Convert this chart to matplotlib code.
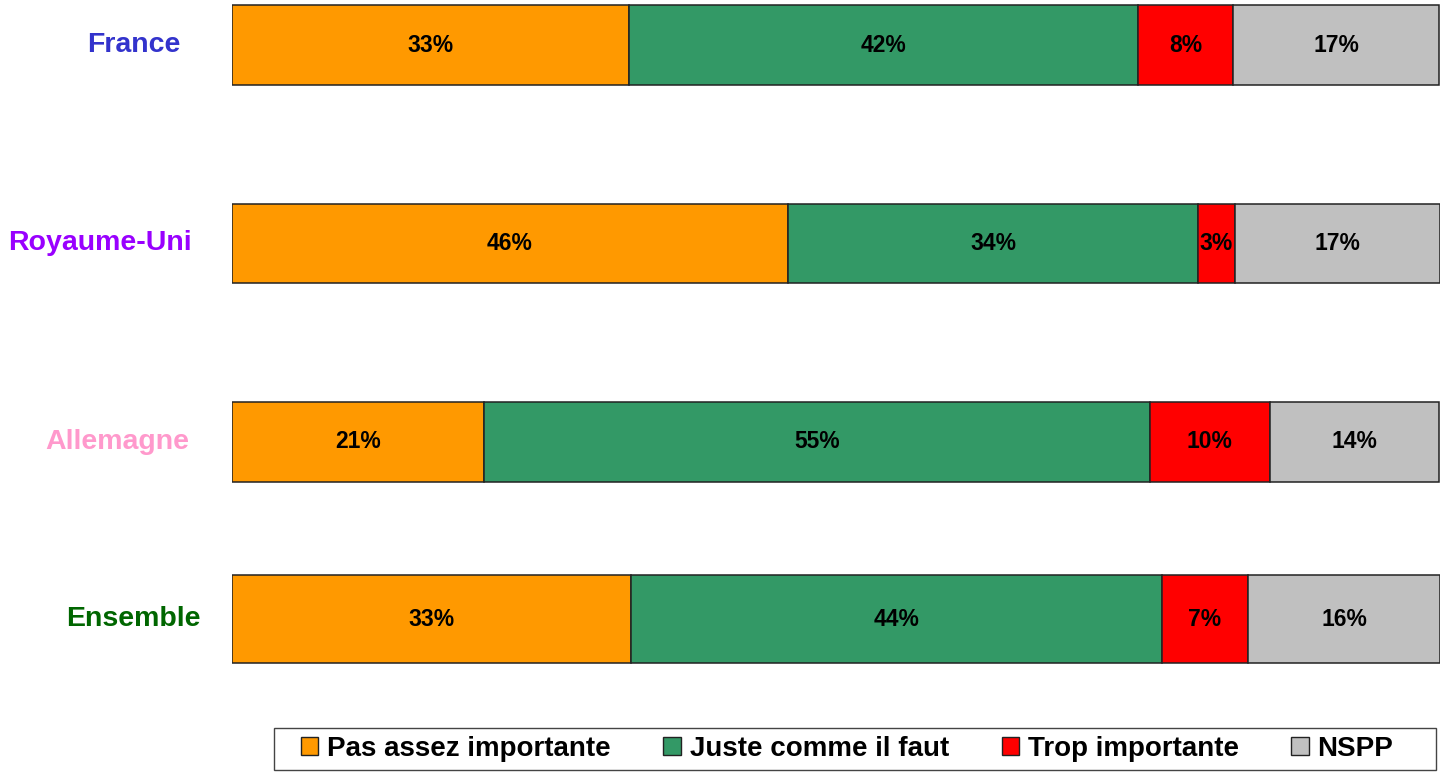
import matplotlib.pyplot as plt
from matplotlib.patches import Rectangle

plt.rcParams['font.family'] = ['Liberation Sans', 'DejaVu Sans']

# data (shares in %)
pays = ["France", "Royaume-Uni", "Allemagne", "Ensemble"]
pays_couleurs = ["#3333CC", "#9900FF", "#FF99CC", "#006600"]
categories = ["Pas assez importante", "Juste comme il faut", "Trop importante", "NSPP"]
cat_couleurs = ["#FF9900", "#339966", "#FF0000", "#C0C0C0"]
pas_assez = [32.9, 46.0, 20.9, 33.0]
juste = [42.1, 34.0, 55.1, 44.0]
trop = [7.9, 3.0, 9.9, 7.1]
nspp = [17.0, 17.0, 14.0, 15.9]
series = [pas_assez, juste, trop, nspp]

# layout (pixel-ish units, y axis inverted)
y_pos = [45, 243.5, 442, 619]
hauteurs = [80, 79, 80, 88]
label_x = [-4.3, -3.3, -3.5, -2.6]

W, H = 1443, 772
fig = plt.figure(figsize=(W / 100, H / 100), dpi=100)
ax = fig.add_axes([232 / W, 1 - 700 / H, 1208 / W, 700 / H])
ax.set_xlim(0, 100)
ax.set_ylim(700, 0)
ax.axis('off')

left = [0.0] * len(pays)
for vals, col, cat in zip(series, cat_couleurs, categories):
    ax.barh(y_pos, vals, left=left, height=hauteurs, color=col,
            edgecolor='#222222', linewidth=1.1, label=cat)
    for i, v in enumerate(vals):
        ax.text(left[i] + v / 2, y_pos[i], f"{v:.0f}%", ha='center', va='center',
                fontsize=16.5, fontweight='bold', color='black')
    left = [l + v for l, v in zip(left, vals)]

for i, p in enumerate(pays):
    ax.text(label_x[i], y_pos[i], p, ha='right', va='center', fontsize=20.5,
            fontweight='bold', color=pays_couleurs[i], clip_on=False)

# legend frame
fig.patches.append(Rectangle((274 / W, 1 - 770 / H), 1162 / W, 42 / H,
                             transform=fig.transFigure, facecolor='white',
                             edgecolor='#444444', linewidth=1.0))
leg = fig.legend(loc='center left', bbox_to_anchor=(287 / W, 1 - 749 / H), ncol=4,
                 frameon=False, prop={'size': 20, 'weight': 'bold'},
                 handlelength=0.62, handleheight=0.62, handletextpad=0.32,
                 columnspacing=1.9, borderpad=0.0)
for h in leg.legend_handles:
    h.set_edgecolor('#222222')
    h.set_linewidth(1.0)

fig.savefig("out.png", dpi=100)
